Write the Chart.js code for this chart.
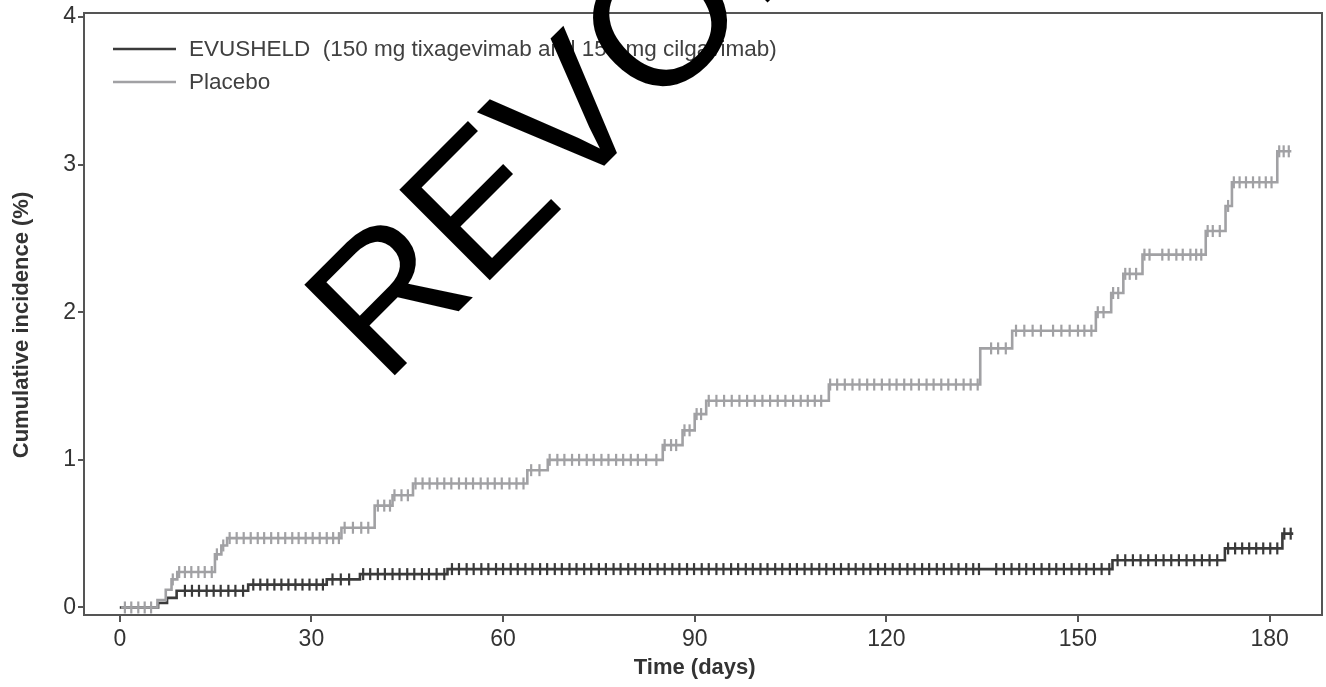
<!DOCTYPE html>
<html>
<head>
<meta charset="utf-8">
<script src="https://cdn.jsdelivr.net/npm/chart.js@4.4.1/dist/chart.umd.min.js"></script>
<style>
  html, body { margin: 0; padding: 0; background: #ffffff; }
  #c { display: block; }
</style>
</head>
<body>
<canvas id="c" width="1326" height="687"></canvas>
<script>
// ---- Data ----
const xTickValues = [0, 30, 60, 90, 120, 150, 180];
const yTickValues = [0, 1, 2, 3, 4];

const seriesNames = ["EVUSHELD  (150 mg tixagevimab and 150 mg cilgavimab)", "Placebo"];
const xTitle = "Time (days)";
const yTitle = "Cumulative incidence (%)";

// Kaplan-Meier step points: day at which the cumulative incidence (%) becomes the given value
const evushTimes  = [0, 6, 7.4, 8.9, 20.1, 32.4, 37.6, 51.3, 155.4, 173.0, 182.0, 183.7];
const evushValues = [0, 0.03, 0.065, 0.113, 0.155, 0.19, 0.226, 0.26, 0.32, 0.40, 0.50, 0.50];

const placeboTimes  = [0.2, 5.9, 7.2, 8.1, 9.0, 14.9, 15.9, 16.8, 34.7, 39.9, 42.7, 45.9, 63.8, 67.0, 85.0, 88.1, 90.0, 91.8, 111.0, 134.7, 139.7, 152.8, 155.2, 157.1, 160.1, 170.0, 173.1, 174.1, 181.2, 183.4];
const placeboValues = [0, 0.05, 0.12, 0.19, 0.24, 0.36, 0.42, 0.47, 0.54, 0.69, 0.76, 0.84, 0.93, 1.00, 1.10, 1.20, 1.31, 1.40, 1.51, 1.755, 1.875, 2.00, 2.13, 2.26, 2.39, 2.55, 2.72, 2.88, 3.09, 3.09];

// Censoring marks (days)
const evushCensor = [
  10.2, 11.3, 12.4, 13.6, 14.7, 15.8, 17.0, 18.1, 19.3,
  20.9, 22.0, 23.1, 24.2, 25.3, 26.4, 27.5, 28.6, 29.7, 30.8, 31.8,
  33.3, 34.6, 35.9,
  38.1, 39.2, 40.4, 41.5, 42.7, 43.8, 45.0, 46.1, 47.3, 48.4, 49.6, 50.8,
  52.0, 53.1, 54.3, 55.4, 56.6, 57.7, 58.9, 60.0, 61.2, 62.3, 63.5, 64.6, 65.8, 66.9, 68.1, 69.2,
  70.4, 71.5, 72.7, 73.8, 75.0, 76.1, 77.3, 78.4, 79.6, 80.7, 81.9, 83.0, 84.2, 85.3, 86.5, 87.6,
  88.8, 89.9, 91.1, 92.2, 93.4, 94.5, 95.7, 96.8, 98.0, 99.1, 100.3, 101.4, 102.6, 103.7, 104.9,
  106.0, 107.2, 108.3, 109.5, 110.6, 111.8, 112.9, 114.1, 115.2, 116.4, 117.5, 118.7, 119.8, 121.0,
  122.1, 123.3, 124.4, 125.6, 126.7, 127.9, 129.0, 130.2, 131.3, 132.5, 133.6, 134.5,
  137.2, 138.4, 139.6, 140.8, 141.9, 143.1, 144.3, 145.5, 146.6, 147.8, 149.0, 150.2, 151.3, 152.5, 153.7, 154.9,
  156.2, 157.4, 158.6, 159.8, 161.0, 162.2, 163.4, 164.6, 165.8, 167.0, 168.2, 169.4, 170.6, 171.8,
  173.5, 174.6, 175.7, 176.8, 177.9, 179.0, 180.1, 181.2,
  182.3, 183.3
];
const placeboCensor = [
  0.8, 1.8, 2.9, 3.9, 4.9,
  8.3,
  9.3, 10.2, 11.2, 12.3, 13.3, 14.4,
  15.2, 16.2,
  17.2, 18.3, 19.4, 20.5, 21.6, 22.6, 23.7, 24.8, 25.9, 27.0, 28.0, 29.1, 30.2, 31.3, 32.4, 33.4, 34.3,
  35.2, 36.5, 37.8, 38.9,
  40.4, 41.4, 42.3,
  43.0, 44.1, 45.1,
  46.3, 47.4, 48.5, 49.7, 50.8, 51.9, 53.1, 54.2, 55.3, 56.5, 57.6, 58.7, 59.8, 61.0, 62.1, 63.2,
  64.4, 65.7,
  67.3, 68.5, 69.6, 70.8, 71.9, 73.1, 74.2, 75.4, 76.5, 77.7, 78.8, 80.0, 81.1, 82.4, 84.0,
  85.3, 86.3, 87.1,
  88.4, 89.2,
  90.3, 91.0,
  92.2, 93.4, 94.6, 95.8, 97.0, 98.2, 99.4, 100.6, 101.8, 103.0, 104.2, 105.4, 106.6, 107.7, 108.8, 109.8,
  111.2, 112.3, 113.5, 114.7, 115.8, 117.0, 118.1, 119.3, 120.5, 121.6, 122.8, 123.9, 125.1, 126.3,
  127.4, 128.6, 129.7, 130.9, 132.1, 133.2, 134.3,
  136.4, 137.5, 138.7,
  140.3, 141.6, 142.9, 144.2, 146.1, 147.4, 148.7, 150.0, 151.0, 152.1,
  153.1, 154.0,
  155.5, 156.3,
  157.4, 158.1, 159.1,
  160.4, 161.2, 163.2, 164.2, 165.4, 166.4, 167.6, 168.5, 169.3,
  170.3, 171.1, 172.2,
  173.5,
  174.4, 175.3, 176.3, 177.4, 178.4, 179.4, 180.3,
  181.5, 182.2, 183.0
];

// ---- Build datasets from the arrays ----
function stepPoints(times, values) {
  return times.map((t, i) => ({ x: t, y: values[i] }));
}
function valueAt(times, values, t) {
  let v = values[0];
  for (let i = 0; i < times.length; i++) { if (times[i] <= t) v = values[i]; }
  return v;
}
function censorPoints(days, times, values) {
  return days.map(d => ({ x: d, y: valueAt(times, values, d) }));
}

const DARK = '#3a3a3a';
const LIGHT = '#a1a1a4';
const AXIS = '#555555';
const TEXT = '#333333';
const FONT = "'Liberation Sans', Arial, Helvetica, sans-serif";
const RIGHT_GAP = 4;

const markStyle = { showLine: false, pointStyle: 'line', rotation: 90, pointRadius: 6, pointBorderWidth: 2.2, pointHoverRadius: 6 };

const datasets = [
  Object.assign({ label: 'placebo-censor', data: censorPoints(placeboCensor, placeboTimes, placeboValues),
    borderColor: LIGHT, pointBorderColor: LIGHT, backgroundColor: LIGHT, order: 1 }, markStyle),
  { label: seriesNames[1], data: stepPoints(placeboTimes, placeboValues), showLine: true, stepped: true,
    borderColor: LIGHT, borderWidth: 2.6, pointRadius: 0, order: 2 },
  Object.assign({ label: 'evush-censor', data: censorPoints(evushCensor, evushTimes, evushValues),
    borderColor: DARK, pointBorderColor: DARK, backgroundColor: DARK, order: 3 }, markStyle),
  { label: seriesNames[0], data: stepPoints(evushTimes, evushValues), showLine: true, stepped: true,
    borderColor: DARK, borderWidth: 2.6, pointRadius: 0, order: 4 }
];

// ---- Plugins ----
// stretch the plot area to the right edge (4 px gap) like the reference
const stretchPlugin = {
  id: 'stretch',
  afterLayout(chart) {
    const a = chart.chartArea;
    const target = chart.width - RIGHT_GAP;
    const delta = target - a.right;
    if (Math.abs(delta) < 0.5) return;
    a.right += delta;
    a.width = a.right - a.left;
    const x = chart.scales.x;
    x.right += delta;
    x.width += delta;
    x.configure();
  }
};

const boxPlugin = {
  id: 'box',
  beforeDatasetsDraw(chart) {
    const { ctx, chartArea: a } = chart;
    ctx.save();
    ctx.strokeStyle = AXIS;
    ctx.lineWidth = 2;
    ctx.strokeRect(a.left, a.top, a.right - a.left, a.bottom - a.top);
    ctx.restore();
  }
};

const axisTitlePlugin = {
  id: 'axisTitles',
  afterDraw(chart) {
    const { ctx, scales } = chart;
    ctx.save();
    ctx.fillStyle = TEXT;
    ctx.font = 'bold 22px ' + FONT;
    ctx.textAlign = 'center';
    ctx.textBaseline = 'middle';
    const xc = (scales.x.getPixelForValue(0) + scales.x.getPixelForValue(180)) / 2;
    ctx.fillText(xTitle, xc, 668);
    ctx.translate(22, 325);
    ctx.rotate(-Math.PI / 2);
    ctx.fillText(yTitle, 0, 0);
    ctx.restore();
  }
};

const legendPlugin = {
  id: 'kmLegend',
  afterDatasetsDraw(chart) {
    const { ctx } = chart;
    const rows = [
      { text: seriesNames[0], color: DARK, y: 49 },
      { text: seriesNames[1], color: LIGHT, y: 82 }
    ];
    ctx.save();
    ctx.font = '22.5px ' + FONT;
    ctx.textBaseline = 'middle';
    ctx.textAlign = 'left';
    rows.forEach(r => {
      ctx.strokeStyle = r.color;
      ctx.lineWidth = 2.6;
      ctx.beginPath();
      ctx.moveTo(113, r.y);
      ctx.lineTo(176, r.y);
      ctx.stroke();
      ctx.fillStyle = '#404040';
      ctx.fillText(r.text, 189, r.y + 1);
    });
    ctx.restore();
  }
};

const watermarkPlugin = {
  id: 'watermark',
  afterDraw(chart) {
    const { ctx } = chart;
    ctx.save();
    ctx.translate(384, 386);
    ctx.rotate(-Math.PI / 4);
    ctx.font = '186px ' + FONT;
    ctx.fillStyle = '#000000';
    ctx.textAlign = 'left';
    ctx.textBaseline = 'alphabetic';
    ctx.fillText('REVOKED', 0, 0);
    ctx.restore();
  }
};

new Chart(document.getElementById('c'), {
  type: 'scatter',
  data: { datasets },
  options: {
    responsive: false,
    animation: false,
    events: [],
    layout: { padding: { top: 13, right: 4, left: 0, bottom: 0 } },
    plugins: { legend: { display: false }, tooltip: { enabled: false } },
    scales: {
      x: {
        type: 'linear', min: -5.6, max: 188.2,
        afterBuildTicks: s => { s.ticks = xTickValues.map(v => ({ value: v })); },
        afterFit: s => { s.height = 72; s.paddingLeft = 0; s.paddingRight = 0; },
        grid: { drawOnChartArea: false, drawTicks: true, tickLength: 7, tickWidth: 2, tickColor: AXIS, color: AXIS, lineWidth: 2 },
        border: { display: true, color: AXIS, width: 2 },
        ticks: { font: { family: FONT, size: 23 }, color: TEXT, padding: 4, maxRotation: 0, autoSkip: false },
        title: { display: false }
      },
      y: {
        type: 'linear', min: -0.051, max: 4.027,
        afterBuildTicks: s => { s.ticks = yTickValues.map(v => ({ value: v })); },
        afterFit: s => { s.width = 84; s.paddingTop = 0; s.paddingBottom = 0; },
        grid: { drawOnChartArea: false, drawTicks: true, tickLength: 6, tickWidth: 2, tickColor: AXIS, color: AXIS, lineWidth: 2 },
        border: { display: true, color: AXIS, width: 2 },
        ticks: { font: { family: FONT, size: 23 }, color: TEXT, padding: 2, autoSkip: false },
        title: { display: false }
      }
    }
  },
  plugins: [stretchPlugin, boxPlugin, legendPlugin, axisTitlePlugin, watermarkPlugin]
});
</script>
</body>
</html>
